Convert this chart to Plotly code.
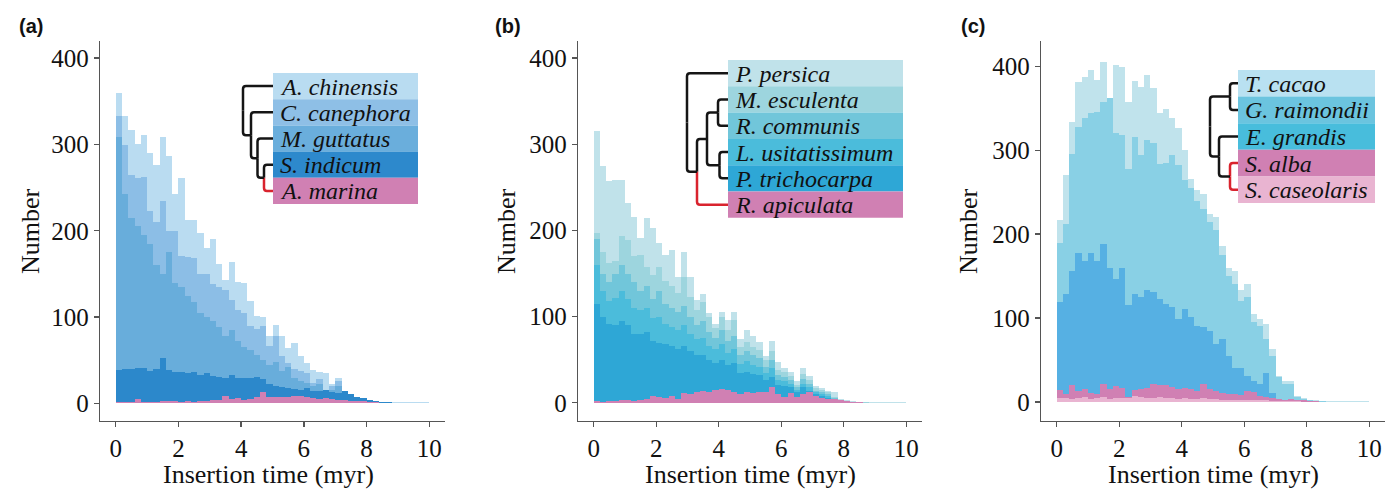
import plotly.graph_objects as go

W, H = 1399, 490

# ---------------- data ----------------
bin_centers = [0.1, 0.3, 0.5, 0.7, 0.9, 1.1, 1.3, 1.5, 1.7, 1.9,
               2.1, 2.3, 2.5, 2.7, 2.9, 3.1, 3.3, 3.5, 3.7, 3.9,
               4.1, 4.3, 4.5, 4.7, 4.9, 5.1, 5.3, 5.5, 5.7, 5.9,
               6.1, 6.3, 6.5, 6.7, 6.9, 7.1, 7.3, 7.5, 7.7, 7.9,
               8.1, 8.3, 8.5, 8.7, 8.9, 9.1, 9.3, 9.5, 9.7, 9.9]
bin_width = 0.2

# panel (a)
a_names = ["A. chinensis", "C. canephora", "M. guttatus", "S. indicum", "A. marina"]
a_chinensis = [359, 333, 317, 301, 311, 290, 276, 309, 287, 243, 261, 213, 213, 197, 180, 190, 161, 143, 164, 141,
               140, 119, 101, 100, 78, 91, 78, 64, 70, 55, 47, 39, 37, 35, 22, 29, 14, 10, 7, 5,
               4, 3, 2, 2, 2, 2, 2, 2, 2, 2]
c_canephora = [333, 299, 264, 261, 262, 223, 210, 235, 200, 200, 171, 170, 168, 150, 150, 138, 135, 131, 120, 108,
               105, 90, 86, 90, 66, 78, 55, 47, 40, 38, 35, 24, 28, 14, 20, 26, 10, 7, 5, 4,
               3, 2, 2, 1, 1, 1, 1, 1, 0, 0]
m_guttatus = [308, 243, 215, 205, 195, 185, 160, 150, 175, 140, 135, 125, 118, 105, 100, 95, 88, 78, 85, 72,
              65, 62, 56, 50, 45, 48, 38, 42, 30, 26, 24, 20, 22, 12, 16, 20, 8, 6, 4, 3,
              2, 2, 1, 1, 1, 0, 0, 0, 0, 0]
s_indicum = [39, 40, 40, 41, 41, 38, 40, 53, 39, 36, 37, 35, 36, 33, 35, 32, 31, 30, 33, 30,
             30, 29, 31, 28, 22, 20, 19, 18, 17, 16, 18, 15, 14, 16, 13, 12, 14, 11, 8, 6,
             4, 3, 2, 2, 1, 1, 0, 0, 0, 0]
a_marina = [2, 2, 2, 5, 2, 2, 2, 3, 3, 3, 2, 3, 2, 3, 3, 4, 4, 9, 5, 6,
            4, 5, 7, 13, 8, 7, 7, 8, 9, 9, 7, 6, 5, 6, 5, 4, 4, 3, 3, 3,
            2, 2, 1, 1, 1, 0, 0, 0, 0, 0]

# panel (b)
b_names = ["P. persica", "M. esculenta", "R. communis", "L. usitatissimum", "P. trichocarpa", "R. apiculata"]
p_persica = [315, 275, 257, 259, 259, 232, 216, 191, 215, 203, 185, 172, 177, 146, 175, 146, 119, 126, 104, 92,
             105, 96, 105, 74, 84, 77, 71, 54, 72, 47, 40, 36, 25, 40, 31, 19, 17, 14, 13, 5,
             3, 2, 1, 1, 1, 1, 1, 1, 1, 1]
m_esculenta = [197, 175, 162, 164, 193, 189, 170, 172, 158, 148, 158, 141, 135, 127, 146, 123, 108, 117, 100, 87,
               100, 85, 96, 65, 71, 65, 61, 50, 60, 38, 36, 31, 21, 34, 27, 17, 15, 12, 7, 3,
               2, 1, 1, 1, 0, 0, 0, 0, 0, 0]
r_communis = [190, 150, 140, 150, 160, 150, 140, 130, 135, 120, 130, 115, 110, 105, 112, 100, 90, 95, 82, 75,
              85, 72, 78, 55, 60, 55, 52, 42, 50, 32, 30, 27, 18, 28, 22, 14, 13, 10, 6, 3,
              2, 1, 1, 0, 0, 0, 0, 0, 0, 0]
l_usitatissimum = [160, 130, 118, 122, 130, 120, 110, 108, 110, 98, 100, 92, 88, 85, 90, 80, 74, 75, 66, 62,
                   68, 58, 62, 45, 48, 44, 42, 35, 40, 26, 25, 22, 15, 22, 18, 12, 10, 8, 5, 2,
                   1, 1, 0, 0, 0, 0, 0, 0, 0, 0]
p_trichocarpa = [115, 100, 92, 90, 95, 90, 80, 80, 82, 72, 70, 68, 66, 62, 66, 60, 55, 56, 50, 46,
                 50, 44, 46, 35, 36, 34, 32, 27, 30, 21, 20, 18, 12, 18, 14, 10, 8, 6, 4, 2,
                 1, 0, 0, 0, 0, 0, 0, 0, 0, 0]
r_apiculata = [2, 1, 2, 2, 3, 3, 2, 3, 4, 8, 7, 6, 8, 4, 11, 10, 13, 14, 12, 15,
               16, 15, 12, 10, 12, 11, 13, 12, 18, 10, 7, 11, 7, 10, 12, 8, 6, 4, 5, 3,
               2, 1, 1, 0, 0, 0, 0, 0, 0, 0]

# panel (c)
c_names = ["T. cacao", "G. raimondii", "E. grandis", "S. alba", "S. caseolaris"]
t_cacao = [217, 270, 334, 381, 387, 396, 383, 405, 360, 402, 399, 357, 382, 375, 390, 374, 344, 349, 338, 326,
           300, 266, 252, 248, 224, 220, 186, 160, 156, 133, 140, 105, 99, 93, 63, 31, 25, 25, 7, 5,
           3, 2, 1, 1, 1, 1, 1, 1, 1, 1]
g_raimondii = [190, 212, 295, 327, 338, 344, 346, 357, 362, 321, 318, 277, 316, 294, 312, 309, 283, 285, 294, 282,
               265, 255, 240, 230, 215, 205, 175, 150, 140, 120, 125, 95, 90, 75, 55, 30, 22, 22, 6, 4,
               2, 1, 1, 0, 0, 0, 0, 0, 0, 0]
e_grandis = [119, 129, 156, 178, 168, 178, 168, 188, 160, 146, 160, 115, 129, 125, 133, 131, 123, 117, 113, 99,
             111, 101, 91, 89, 85, 69, 75, 55, 41, 41, 31, 25, 21, 35, 11, 3, 2, 1, 1, 0,
             0, 0, 0, 0, 0, 0, 0, 0, 0, 0]
s_alba = [14, 9, 20, 13, 15, 11, 9, 22, 15, 19, 17, 6, 14, 15, 17, 21, 20, 20, 18, 15,
          17, 15, 13, 22, 15, 13, 11, 9, 10, 8, 13, 12, 7, 6, 5, 4, 3, 4, 3, 2,
          1, 1, 0, 0, 0, 0, 0, 0, 0, 0]
s_caseolaris = [5, 5, 4, 5, 6, 4, 5, 6, 4, 5, 5, 5, 7, 6, 5, 5, 6, 5, 5, 4,
                5, 4, 4, 5, 4, 4, 3, 3, 3, 3, 2, 2, 2, 2, 1, 1, 1, 1, 1, 0,
                0, 0, 0, 0, 0, 0, 0, 0, 0, 0]

x_ticks = [0, 2, 4, 6, 8, 10]
y_ticks = [0, 100, 200, 300, 400]

# ---------------- styles ----------------
a_bar_colors = ["#badcf1", "#8cbee6", "#68addb", "#2c88cb", "#d080b3"]
a_leg_colors = ["#b9dcf1", "#8ebfe6", "#6aaedc", "#2d89cc", "#d080b3"]
b_bar_colors = ["#c0e2ea", "#9dd5de", "#71c6da", "#4bbcdb", "#2ea7d6", "#d080b3"]
b_leg_colors = b_bar_colors
c_bar_colors = ["#c0e3ec", "#89d0e5", "#56b0e3", "#d080b3", "#e9b4d1"]
c_leg_colors = ["#b9e1f1", "#6bc4df", "#48bddc", "#d080b3", "#e9b4d1"]

SERIF = "Liberation Serif, Times New Roman, serif"
AXC = "#555555"

panels = [
    dict(series=[a_chinensis, c_canephora, m_guttatus, s_indicum, a_marina], names=a_names,
         bar_colors=a_bar_colors, leg_colors=a_leg_colors,
         dom=(100, 445), yr=(-19.7, 419.7), label="(a)", label_x=31, ytitle_x=30, xtitle_x=268,
         box=(273, 418, 73, 26.2),
         tree=(243, [0, (251, [1, (257.5, [2, (264, [3, 4])])])]), red=[4]),
    dict(series=[p_persica, m_esculenta, r_communis, l_usitatissimum, p_trichocarpa, r_apiculata], names=b_names,
         bar_colors=b_bar_colors, leg_colors=b_leg_colors,
         dom=(578, 922), yr=(-20.5, 419.8), label="(b)", label_x=508, ytitle_x=506, xtitle_x=750,
         box=(728, 903, 60, 26.3),
         tree=(687, [0, (697, [(707, [(718, [1, 2]), (719.5, [3, 4])]), 5])]), red=[5]),
    dict(series=[t_cacao, g_raimondii, e_grandis, s_alba, s_caseolaris], names=c_names,
         bar_colors=c_bar_colors, leg_colors=c_leg_colors,
         dom=(1041, 1385), yr=(-22, 430), label="(c)", label_x=973, ytitle_x=968, xtitle_x=1213,
         box=(1238, 1375, 70, 26.6),
         tree=(1210, [(1230, [0, 1]), (1219, [2, (1230, [3, 4])])]), red=[3, 4]),
]

Y_TOP, Y_BOT = 41, 420.5


def px(x):
    return x / W


def py(y):
    return 1 - y / H


def pt(x, y):
    return f"{px(x):.6f},{py(y):.6f}"


fig = go.Figure()
shapes = []
annotations = []
BLACK, RED = "#151515", "#d9232e"


def draw_tree(tree, rc, leaf_x, red):
    xn, kids = tree
    ys, xs = [], []
    for k in kids:
        if isinstance(k, int):
            ys.append(rc[k])
            xs.append(leaf_x)
        else:
            ys.append(draw_tree(k, rc, leaf_x, red))
            xs.append(k[0])
    ym = (ys[0] + ys[-1]) / 2
    r = 3.0
    for k, yc, xc in zip(kids, ys, xs):
        col = RED if (isinstance(k, int) and k in red) else BLACK
        sgn = 1 if yc > ym else -1
        path = (f"M{pt(xn, ym)} L{pt(xn, yc - sgn * r)} "
                f"Q{pt(xn, yc)} {pt(xn + r, yc)} L{pt(xc, yc)}")
        shapes.append(dict(type="path", xref="paper", yref="paper", path=path,
                           line=dict(color=col, width=2.5), layer="above"))
    return ym


for i, p in enumerate(panels):
    sfx = "" if i == 0 else str(i + 1)
    xa, ya = "x" + sfx, "y" + sfx
    for vals, name, col in zip(p["series"], p["names"], p["bar_colors"]):
        fig.add_trace(go.Bar(x=bin_centers, y=vals, width=bin_width, name=name,
                             marker=dict(color=col, line=dict(width=0)),
                             showlegend=False, xaxis=xa, yaxis=ya))
    axis_common = dict(showgrid=False, zeroline=False, showline=True, linecolor=AXC, linewidth=1.3,
                       ticks="outside", ticklen=5, tickwidth=1.3, tickcolor=AXC,
                       tickfont=dict(family=SERIF, size=25, color="#111"))
    fig.update_layout(**{
        "xaxis" + sfx: dict(domain=[px(p["dom"][0]), px(p["dom"][1])], range=[-0.5, 10.5],
                            tickvals=x_ticks, anchor=ya, **axis_common),
        "yaxis" + sfx: dict(domain=[py(Y_BOT), py(Y_TOP)], range=list(p["yr"]),
                            tickvals=y_ticks, anchor=xa, **axis_common),
    })
    # axis titles
    annotations.append(dict(text="Number", x=px(p["ytitle_x"]), y=py(231), xref="paper", yref="paper",
                            textangle=-90, showarrow=False, xanchor="center", yanchor="middle",
                            font=dict(family=SERIF, size=26, color="#111")))
    annotations.append(dict(text="Insertion time (myr)", x=px(p["xtitle_x"]), y=py(474), xref="paper",
                            yref="paper", showarrow=False, xanchor="center", yanchor="middle",
                            font=dict(family=SERIF, size=26, color="#111")))
    annotations.append(dict(text="<b>" + p["label"] + "</b>", x=px(p["label_x"]), y=py(26), xref="paper",
                            yref="paper", showarrow=False, xanchor="center", yanchor="middle",
                            font=dict(family="Liberation Sans, Arial, sans-serif", size=20, color="#111")))
    # legend boxes
    bl, br, bt, bh = p["box"]
    rc = []
    for k, (name, col) in enumerate(zip(p["names"], p["leg_colors"])):
        y0 = bt + k * bh
        shapes.append(dict(type="rect", xref="paper", yref="paper", x0=px(bl), x1=px(br),
                           y0=py(y0 + bh), y1=py(y0), fillcolor=col, line=dict(width=0), layer="above"))
        rc.append(y0 + bh / 2)
        annotations.append(dict(text="<i>" + name + "</i>", x=px(bl + 5), y=py(y0 + bh / 2 + 0.5),
                                xref="paper", yref="paper", showarrow=False, xanchor="left",
                                yanchor="middle",
                                font=dict(family=SERIF, size=24, color="#111")))
    draw_tree(p["tree"], rc, bl, p["red"])

fig.update_layout(width=W, height=H, margin=dict(l=0, r=0, t=0, b=0),
                  plot_bgcolor="white", paper_bgcolor="white", barmode="overlay", bargap=0,
                  shapes=shapes, annotations=annotations, showlegend=False)

fig.write_html("out.html", config={"displayModeBar": False, "staticPlot": True},
               post_script="document.body.style.margin='0';document.body.style.padding='0';"
                           "document.body.style.overflow='hidden';")
